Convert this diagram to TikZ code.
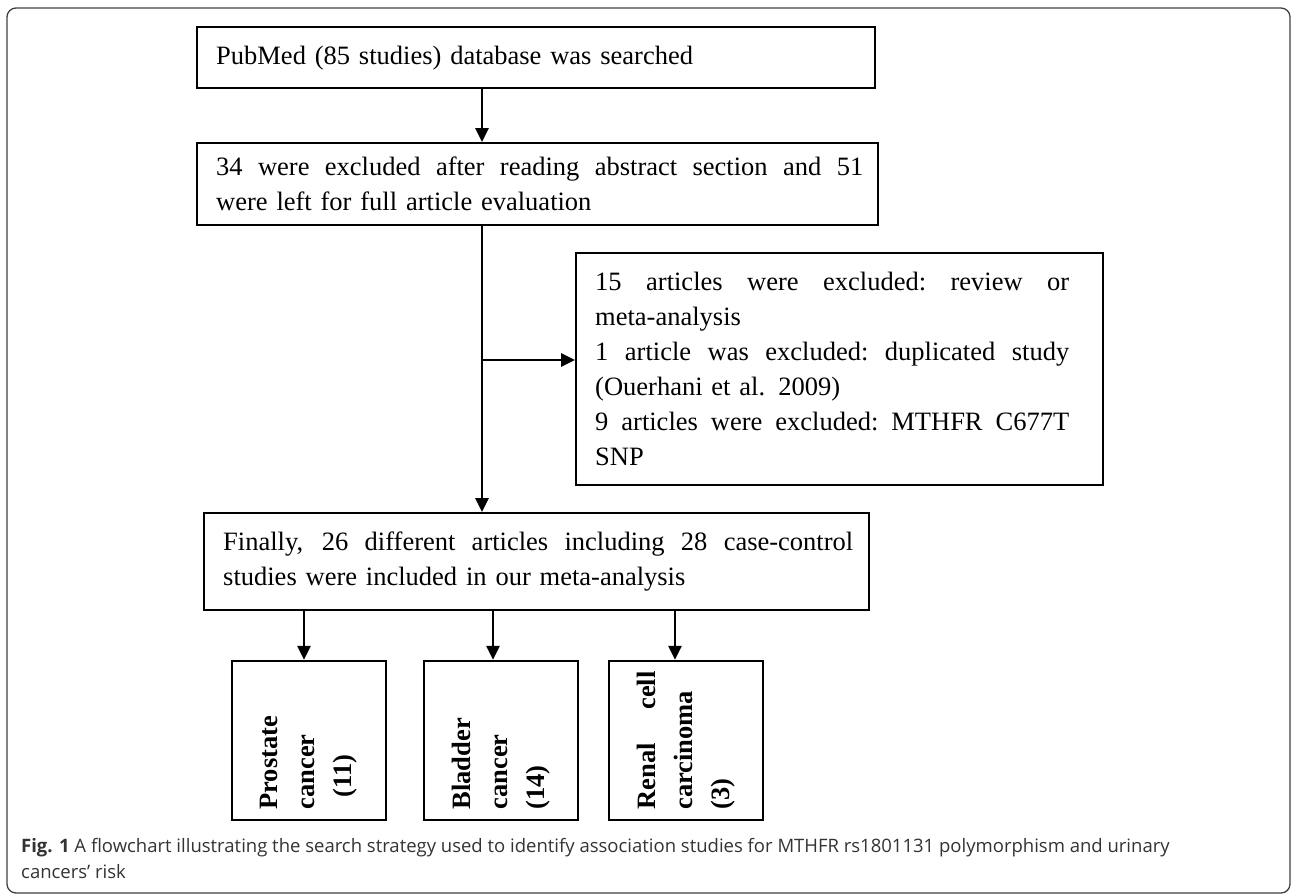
\documentclass[tikz,border=0pt]{standalone}
\usepackage{fontspec}
\setmainfont{Liberation Serif}
\newfontfamily\capfont{Open Sans}
\usetikzlibrary{arrows.meta}
% justified line of a given width
\newcommand{\jl}[2]{\leavevmode\hbox to #1{\spaceskip=0.25em plus 1fil\xspaceskip=0.25em plus 1fil\relax #2}}
\begin{document}
\begin{tikzpicture}[x=1pt, y=-1pt,
    box/.style={draw, line width=2.4pt, anchor=north west, inner xsep=19pt, inner ysep=0pt,
        align=left, font=\fontsize{26.5}{35}\selectfont},
    cancerbox/.style={draw, line width=2.4pt, rotate=90, minimum width=159pt, minimum height=154pt,
        text width=138pt, inner sep=0pt, align=left, font=\bfseries\fontsize{26.5}{37}\selectfont},
    arrow/.style={line width=2.8pt, -{Triangle[width=13pt,length=14pt]}}]
    \useasboundingbox (0,0) rectangle (1292,894);
    % Frame
    \draw[black!75, line width=1.3pt, rounded corners=9pt] (7,8) rectangle (1290,893);
    % Boxes
    \node[box, text width=640pt, minimum height=61pt] (pubmed) at (196,26)
        {PubMed (85 studies) database was searched};
    \node[box, text width=643pt, minimum height=82pt] (abstr) at (196,142)
        {\jl{647pt}{34 were excluded after reading abstract section and 51}\\
         were left for full article evaluation};
    \node[box, text width=489pt, minimum height=232pt] (excl) at (575,252)
        {\jl{474pt}{15 articles were excluded: review or}\\
         meta-analysis\\
         \jl{474pt}{1 article was excluded: duplicated study}\\
         (Ouerhani et al. 2009)\\
         \jl{474pt}{9 articles were excluded: MTHFR C677T}\\
         SNP};
    \node[box, text width=627pt, minimum height=97pt] (final) at (203,512)
        {\jl{630pt}{Finally, 26 different articles including 28 case-control}\\
         studies were included in our meta-analysis};
    \node[cancerbox] (prostate) at (309,740.5) {Prostate\\cancer\\\hspace*{12pt}(11)};
    \node[cancerbox] (bladder) at (501,740.5) {Bladder\\cancer\\(14)};
    \node[cancerbox] (renal) at (686,740.5) {\jl{138pt}{Renal cell}\\carcinoma\\(3)};
    % Arrows
    \coordinate (axis) at (482,0);
    \coordinate (fork) at (482,360);
    \draw[arrow] (pubmed.south -| axis) -- (abstr.north -| axis);
    \draw[arrow] (abstr.south -| axis) -- (final.north -| axis);
    \draw[arrow] (fork) -- (fork -| excl.west);
    \foreach \n/\dx in {prostate/-5, bladder/-8, renal/-11}
        \draw[arrow] ([xshift=\dx pt]\n.east |- final.south) -- ([xshift=\dx pt]\n.east);
    % Caption
    \node[anchor=north west, inner sep=0pt, align=left, text=black!80,
        font=\capfont\fontsize{18.5}{26}\selectfont] (caption) at (21,838)
        {\textbf{Fig. 1} A flowchart illustrating the search strategy used to identify association studies for MTHFR rs1801131 polymorphism and urinary\\
         cancers’ risk};
\end{tikzpicture}
\end{document}
